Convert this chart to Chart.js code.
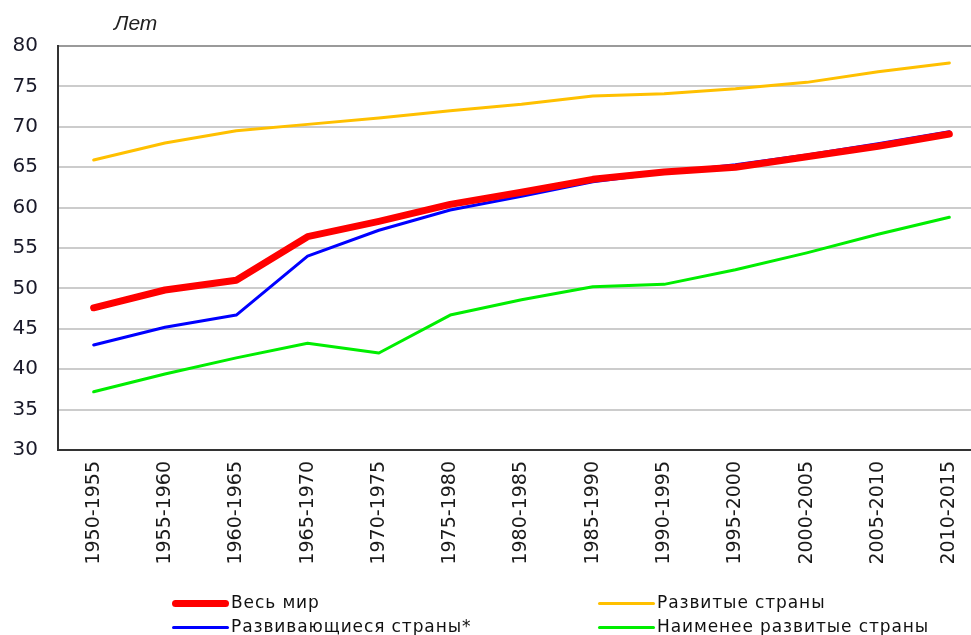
<!DOCTYPE html>
<html>
<head>
<meta charset="utf-8">
<script src="https://cdn.jsdelivr.net/npm/chart.js@4/dist/chart.umd.min.js"></script>
<style>
  html, body { margin: 0; padding: 0; background: #fff; overflow: hidden; }
  #wrap { position: relative; width: 971px; height: 635px; overflow: hidden; }
  #box { position: absolute; left: 0; top: 0; width: 985px; height: 635px; }
  #unit { position: absolute; left: 114px; top: 11px; font: italic 21px "Liberation Sans", Arial, sans-serif; color: #222; }
  .leg { position: absolute; font: 17px "DejaVu Sans", sans-serif; letter-spacing: 0.9px; color: #111; white-space: nowrap; }
  .leg span { display: inline-block; vertical-align: middle; margin-right: 2px; }
</style>
</head>
<body>
<div id="wrap">
  <div id="box"><canvas id="chart1"></canvas></div>
  <div id="unit">Лет</div>
  <div id="legend"></div>
</div>
<script>
// periods
const periods = ['1950-1955', '1955-1960', '1960-1965', '1965-1970', '1970-1975', '1975-1980',
  '1980-1985', '1985-1990', '1990-1995', '1995-2000', '2000-2005', '2005-2010', '2010-2015'];

// life expectancy, years
const world = [47.6, 49.8, 51.0, 56.4, 58.3, 60.4, 61.9, 63.5, 64.4, 65.0, 66.3, 67.6, 69.1];
const developing = [43.0, 45.2, 46.7, 54.0, 57.2, 59.7, 61.4, 63.2, 64.3, 65.3, 66.5, 67.9, 69.4];
const developed = [65.9, 68.0, 69.5, 70.3, 71.1, 72.0, 72.8, 73.8, 74.1, 74.7, 75.5, 76.8, 77.9];
const leastDeveloped = [37.2, 39.4, 41.4, 43.2, 42.0, 46.7, 48.6, 50.2, 50.5, 52.3, 54.4, 56.7, 58.8];

const seriesNames = ['Весь мир', 'Развивающиеся страны*', 'Развитые страны', 'Наименее развитые страны'];
const yTicks = [30, 35, 40, 45, 50, 55, 60, 65, 70, 75, 80];

//build a line dataset
mkLine = function(label, values, color, width) {
    return {
        label: label,
        data: values,
        borderColor: color,
        backgroundColor: color,
        borderWidth: width,
        pointRadius: 0,
        tension: 0,
        fill: false,
        borderCapStyle: 'round',
        borderJoinStyle: 'round'
    }
}

const data = {
    labels: periods,
    datasets: [
        mkLine(seriesNames[0], world, '#ff0000', 7),
        mkLine(seriesNames[2], developed, '#ffc000', 3),
        mkLine(seriesNames[1], developing, '#0000ff', 3),
        mkLine(seriesNames[3], leastDeveloped, '#00ee00', 3)
    ]
};

const config = {
    type: 'line',
    data: data,
    options: {
        responsive: true,
        maintainAspectRatio: false,
        animation: false,
        layout: { padding: { top: 46, left: 0, right: 0, bottom: 0 } },
        plugins: {
            legend: { display: false },
            tooltip: { enabled: false }
        },
        scales: {
            x: {
                offset: true,
                grid: { display: false, drawTicks: false },
                border: { display: true, color: '#333', width: 2 },
                ticks: {
                    autoSkip: false,
                    minRotation: 90,
                    maxRotation: 90,
                    padding: 11,
                    color: '#1a1a1a',
                    font: { family: '"DejaVu Sans", sans-serif', size: 19 }
                },
                afterFit: function(scale) { scale.height = 185 }
            },
            y: {
                min: 30,
                max: 80,
                afterBuildTicks: function(scale) { scale.ticks = yTicks.map(v => ({ value: v })) },
                grid: {
                    drawTicks: false,
                    lineWidth: 2,
                    color: ctx => ctx.tick && ctx.tick.value === 80 ? '#9a9a9a' : '#cccccc'
                },
                border: { display: true, color: '#333', width: 2 },
                ticks: {
                    padding: 20,
                    color: '#1a1a2a',
                    font: { family: '"DejaVu Sans", sans-serif', size: 20 }
                },
                afterFit: function(scale) { scale.width = 58 }
            }
        }
    }
};

const Chart1 = new Chart(document.getElementById('chart1'), config);

//legend in two columns
const legendItems = [
    { name: seriesNames[0], color: '#ff0000', w: 7, x: 172, y: 592 },
    { name: seriesNames[2], color: '#ffc000', w: 3, x: 598, y: 592 },
    { name: seriesNames[1], color: '#0000ff', w: 3, x: 172, y: 616 },
    { name: seriesNames[3], color: '#00ee00', w: 3, x: 598, y: 616 }
];
document.getElementById('legend').innerHTML = legendItems.map(it =>
    '<div class="leg" style="left:' + it.x + 'px;top:' + it.y + 'px">' +
    '<span style="width:57px;height:' + it.w + 'px;background:' + it.color + ';border-radius:' + it.w + 'px"></span>' +
    it.name + '</div>').join('');
</script>
</body>
</html>
